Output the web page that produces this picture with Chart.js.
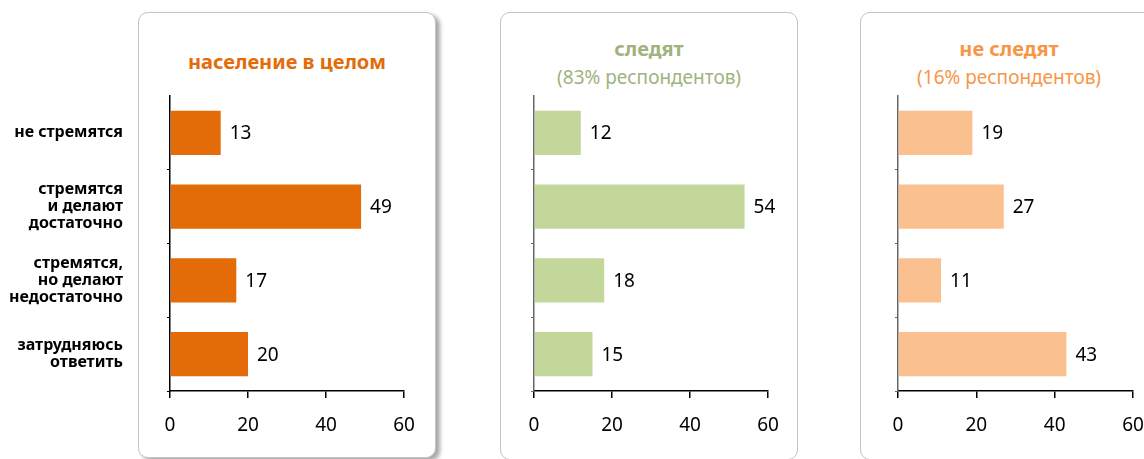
<!DOCTYPE html>
<html>
<head>
<meta charset="utf-8">
<script src="https://cdn.jsdelivr.net/npm/chart.js@4.4.1/dist/chart.umd.min.js"></script>
<style>
  html, body { margin: 0; padding: 0; background: #fff; overflow: hidden; }
  body { width: 1144px; height: 459px; position: relative; font-family: "Noto Sans", sans-serif; }
  .panel { position: absolute; top: 12px; height: 446px; width: 296px; border: 1px solid #c4c4c4; border-radius: 10px; background: #fff; }
  .panel.main { box-shadow: 4px 3px 4px rgba(0,0,0,0.35); height: 444px; }
  .title { position: absolute; left: 0; right: 0; text-align: center; line-height: 28px; font-size: 19px; }
  .title b { font-size: 20px; }
  canvas { position: absolute; top: 0; }
</style>
</head>
<body>
<div class="panel main" style="left:138px;">
  <div class="title" style="top:35px; color:#e36c09;"><b>население в целом</b></div>
</div>
<div class="panel" style="left:500px;">
  <div class="title" style="top:22px; color:#a0b27e;"><b>следят</b><br>(83% респондентов)</div>
</div>
<div class="panel" style="left:860px; width:320px;">
  <div class="title" style="top:22px; color:#f79646; width:296px;"><b>не следят</b><br>(16% респондентов)</div>
</div>

<canvas id="total-chart" width="440" height="459" style="left:0px;"></canvas>
<canvas id="follow-chart" width="300" height="459" style="left:500px;"></canvas>
<canvas id="nofollow-chart" width="320" height="459" style="left:860px;"></canvas>

<script>
// Categories and values
const categories = [
  ['не стремятся'],
  ['стремятся', 'и делают', 'достаточно'],
  ['стремятся,', 'но делают', 'недостаточно'],
  ['затрудняюсь', 'ответить']
];
const totalValues = [13, 49, 17, 20];
const followValues = [12, 54, 18, 15];
const noFollowValues = [19, 27, 11, 43];
const xTicks = [0, 20, 40, 60];

// Draw the number to the right of each bar
const valueLabels = {
  id: 'valueLabels',
  afterDatasetsDraw(chart) {
    const ctx = chart.ctx;
    const meta = chart.getDatasetMeta(0);
    ctx.save();
    ctx.font = '19px "Noto Sans"';
    ctx.fillStyle = '#000';
    ctx.textAlign = 'left';
    ctx.textBaseline = 'middle';
    meta.data.forEach((bar, i) => {
      ctx.fillText(chart.data.datasets[0].data[i], bar.x + 9, bar.y + 1);
    });
    ctx.restore();
  }
};

function createChart(elementId, values, color, opts) {
  const ctx = document.getElementById(elementId);
  ctx.chart = new Chart(ctx, {
    type: 'bar',
    data: {
      labels: categories,
      datasets: [{
        data: values,
        backgroundColor: color,
        barPercentage: 0.6,
        categoryPercentage: 1.0
      }]
    },
    options: {
      indexAxis: 'y',
      responsive: false,
      animation: false,
      devicePixelRatio: 1,
      layout: { padding: { top: 96, right: opts.padRight, bottom: 0, left: 0 } },
      plugins: {
        legend: { display: false },
        tooltip: { enabled: false }
      },
      scales: {
        x: {
          min: 0,
          max: 60,
          afterBuildTicks: (scale) => { scale.ticks = xTicks.map(v => ({ value: v })); },
          afterFit: (scale) => { scale.height = 68; },
          border: { color: '#000', width: 1.5 },
          grid: { drawOnChartArea: false, tickLength: 7, color: '#000', lineWidth: 1.5 },
          ticks: { color: '#000', padding: 16, font: { family: 'Noto Sans', size: 19 }, maxRotation: 0 }
        },
        y: {
          afterFit: (scale) => { scale.width = opts.axisWidth; },
          border: { color: opts.axisColor, width: 1.5 },
          grid: {
            drawOnChartArea: false,
            tickLength: 3,
            offset: true,
            // no tick at the very top of the axis
            color: (c) => c.index === 0 ? 'rgba(0,0,0,0)' : opts.axisColor
          },
          ticks: {
            display: opts.showLabels,
            color: '#000',
            padding: 44,
            font: { family: 'Noto Sans', size: 16, weight: 'bold', lineHeight: 1.05 }
          }
        }
      }
    },
    plugins: [valueLabels]
  });
}

createChart('total-chart', totalValues, '#e36c09', { padRight: 36, axisWidth: 170, axisColor: '#000', showLabels: true });
createChart('follow-chart', followValues, '#c4d79b', { padRight: 32, axisWidth: 34, axisColor: '#666', showLabels: false });
createChart('nofollow-chart', noFollowValues, '#fac090', { padRight: 47, axisWidth: 38, axisColor: '#666', showLabels: false });
</script>
</body>
</html>
